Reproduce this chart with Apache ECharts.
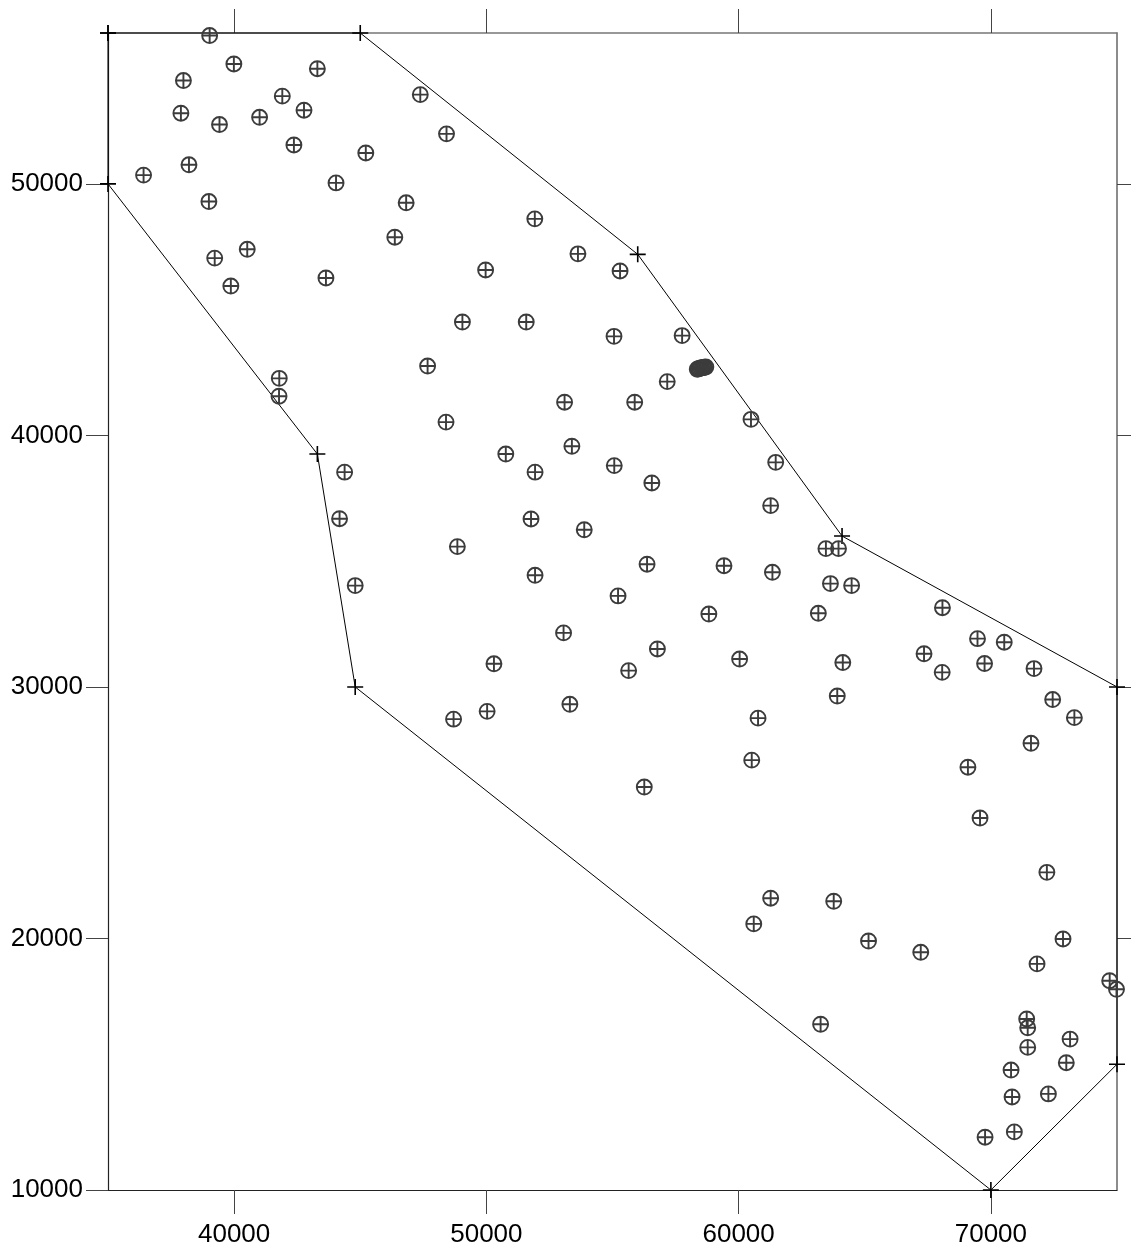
<!DOCTYPE html>
<html>
<head>
<meta charset="utf-8">
<script src="https://cdn.jsdelivr.net/npm/echarts@6/dist/echarts.min.js"></script>
<style>
html,body{margin:0;padding:0;background:#fff;}
#chart{width:1131px;height:1248px;}
</style>
</head>
<body>
<div id="chart"></div>
<script>
// Sample locations
const sampleX = [39030,39990,43300,37990,47380,41910,42770,37890,41010,39420,48420,42370,45220,38210,36410,44040,39000,46820,46370,40520,39230,43640,39870,
51920,53630,49970,55300,49050,51580,55060,57760,47670,57170,
58360,58400,58450,58500,58550,58600,58650,58700,
41790,41780,53100,55880,48400,60490,53390,50770,55070,51930,44380,61470,56560,44180,51770,61270,53880,48850,63460,63960,56370,59420,51930,61340,63640,64480,44800,
55220,58820,63160,68080,53060,69470,70530,67350,60040,56780,64130,50300,55640,68070,69750,71710,63910,53310,50030,48700,60770,72450,73310,71590,60520,69090,56260,69570,
72220,61270,63770,60600,65150,67220,72860,71830,74710,74980,63250,71420,71460,73140,71460,72990,70800,72280,70840,70930,69770];
const sampleY = [55900,54770,54580,54110,53550,53490,52930,52810,52650,52360,51990,51550,51230,50760,50350,50040,49300,49250,47880,47400,47050,46260,45940,
48610,47220,46580,46540,44510,44510,43940,43970,42760,42140,
42630,42650,42660,42680,42690,42700,42710,42720,
42270,41560,41320,41320,40530,40640,39570,39260,38800,38540,38540,38930,38110,36690,36680,37210,36250,35580,35500,35500,34880,34820,34440,34560,34110,34030,34030,
33620,32900,32930,33150,32150,31920,31780,31320,31110,31510,30970,30920,30650,30580,30930,30730,29640,29310,29030,28720,28760,29500,28780,27760,27090,26810,26020,24790,
22630,21600,21480,20580,19900,19450,19980,18990,18320,17980,16590,16800,16450,16000,15670,15060,14770,13820,13700,12310,12100];

// Boundary polygon vertices
const boundaryX = [35000,45000,56000,64100,75000,75000,70000,44800,43300,35000,35000];
const boundaryY = [56000,56000,47200,36000,30000,15000,10000,30000,39260,50000,56000];

// Axis ticks
const xTicks = [40000,50000,60000,70000];
const yTicks = [10000,20000,30000,40000,50000];
const xRange = [35000,75000];
const yRange = [10000,56000];

const samples = sampleX.map((x,i)=>[x,sampleY[i]]);
const boundary = boundaryX.map((x,i)=>[x,boundaryY[i]]);

const oplus = 'path://M0,10 A10,10 0 1,1 20,10 A10,10 0 1,1 0,10 Z M10,0 L10,20 M0,10 L20,10';
const plus = 'path://M10,0 L10,20 M0,10 L20,10';

const font = '"Liberation Sans", Arial, sans-serif';
const plain = v => String(v);

const chart = echarts.init(document.getElementById('chart'), null, {renderer:'canvas'});
chart.setOption({
  animation:false,
  backgroundColor:'#fff',
  grid:{left:108, right:14, top:33, bottom:58, containLabel:false},
  xAxis:[{
    type:'value', position:'bottom', min:xRange[0], max:xRange[1],
    axisLine:{show:true, onZero:false, lineStyle:{color:'#222', width:1.2}},
    axisTick:{show:true, inside:false, length:24, customValues:xTicks, lineStyle:{color:'#444', width:1}},
    axisLabel:{show:true, margin:32, customValues:xTicks, formatter:plain, color:'#000', fontSize:26, fontFamily:font},
    splitLine:{show:false}
  },{
    type:'value', position:'top', min:xRange[0], max:xRange[1],
    axisLine:{show:true, onZero:false, lineStyle:{color:'#777', width:1.5}},
    axisTick:{show:true, inside:false, length:24, customValues:xTicks, lineStyle:{color:'#444', width:1}},
    axisLabel:{show:false},
    splitLine:{show:false}
  }],
  yAxis:[{
    type:'value', position:'left', min:yRange[0], max:yRange[1],
    axisLine:{show:true, onZero:false, lineStyle:{color:'#222', width:1.2}},
    axisTick:{show:true, inside:false, length:22, customValues:yTicks, lineStyle:{color:'#444', width:1}},
    axisLabel:{show:true, margin:25, customValues:yTicks, formatter:plain, color:'#000', fontSize:26, fontFamily:font},
    splitLine:{show:false}
  },{
    type:'value', position:'right', min:yRange[0], max:yRange[1],
    axisLine:{show:true, onZero:false, lineStyle:{color:'#666', width:1.5}},
    axisTick:{show:true, inside:false, length:24, customValues:yTicks.slice(1), lineStyle:{color:'#444', width:1}},
    axisLabel:{show:false},
    splitLine:{show:false}
  }],
  series:[{
    type:'line', data:boundary, xAxisIndex:0, yAxisIndex:0,
    clip:false, smooth:false,
    lineStyle:{color:'#000', width:1},
    symbol:plus, symbolSize:16, showAllSymbol:true,
    itemStyle:{color:'#000', borderColor:'#000', borderWidth:1.6},
    emphasis:{disabled:true}, silent:true, z:3
  },{
    type:'scatter', data:samples, xAxisIndex:0, yAxisIndex:0,
    clip:false,
    symbol:oplus, symbolSize:15,
    itemStyle:{color:'rgba(0,0,0,0)', borderColor:'#3c3c3c', borderWidth:1.9, opacity:1},
    emphasis:{disabled:true}, silent:true, z:4
  }]
});
</script>
</body>
</html>
